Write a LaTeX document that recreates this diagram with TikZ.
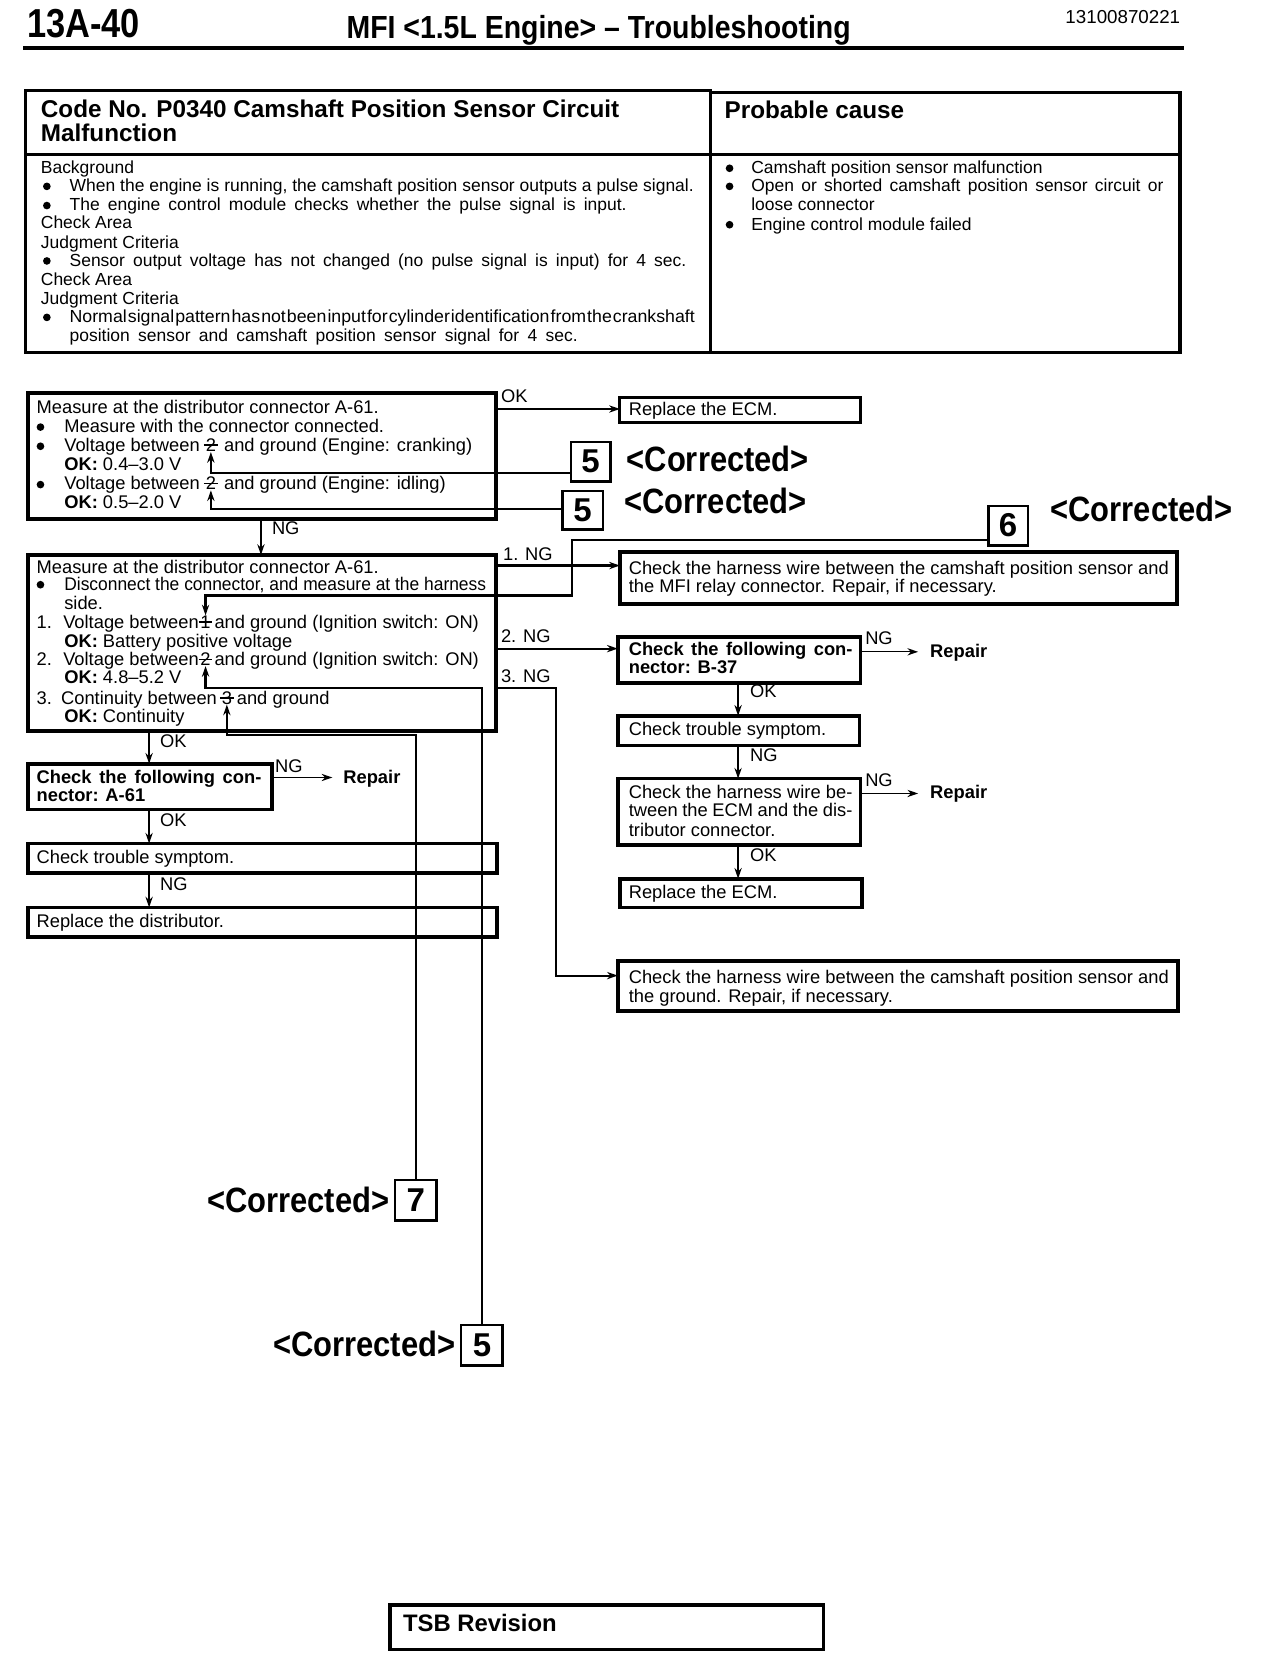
\documentclass[tikz,border=0pt]{standalone}
\usepackage{fontspec}
\setmainfont{Liberation Sans}
\usepackage{graphicx}
\usetikzlibrary{arrows.meta}
\newcommand{\tnum}[1]{\rlap{\kern-0.1em\rule[0.3em]{0.75em}{0.09em}}#1}
\newcommand{\fa}{\fontsize{8.6}{10}\selectfont}
\newcommand{\fb}{\fontsize{8.2}{10}\selectfont}
\newcommand{\jw}[2]{\makebox[#1][s]{#2}}
\newcommand{\mkbox}[7]{\node[#6, anchor=north west, minimum width={(#4-#2)*0.5pt}, minimum height={(#5-#3)*0.5pt}] (#1) at (#2,#3) {#7};}
\begin{document}
\begin{tikzpicture}[x=0.5pt,y=-0.5pt,
  tx/.style={anchor=base west, inner sep=0pt, font=\fa},
  tt/.style={anchor=base west, inner sep=0pt, font=\fb},
  dot/.style={circle, fill=black, inner sep=0pt, minimum size=3.6pt},
  fbox/.style={draw, line width=1.8pt, inner sep=0pt, outer sep=0pt},
  mbox/.style={draw, line width=1.3pt, inner sep=0pt, outer sep=0pt},
  tbox/.style={draw, line width=1.6pt, inner sep=0pt, outer sep=0pt},
  kbox/.style={draw, line width=1.2pt, inner sep=0pt, outer sep=0pt, font=\fontsize{15.5}{16}\selectfont\bfseries},
  corr/.style={inner sep=0pt, font=\fontsize{16.5}{18}\selectfont\bfseries},
  arr/.style={line width=1pt, -{Stealth[length=5pt,width=3.4pt]}},
  tarr/.style={line width=0.6pt, -{Stealth[length=5pt,width=3.4pt]}},
  carr/.style={line width=1.2pt, -{Stealth[length=5pt,width=3.4pt]}},
  gly/.style={anchor=base, inner sep=0pt, font=\fa},
  bld/.style={anchor=base west, inner sep=0pt, font=\fa\bfseries},
]
\fill[white] (0,0) rectangle (1187,1568);
\useasboundingbox (0,0) rectangle (1187,1568);

% ---------- page header ----------
\node[anchor=base west, inner sep=0pt] (pgno) at (25,35) {\scalebox{0.85}[1]{\fontsize{19}{19}\selectfont\bfseries 13A-40}};
\node[anchor=base west, inner sep=0pt] (ttl) at (325,36) {\scalebox{0.89}[1]{\fontsize{15}{15}\selectfont\bfseries MFI <1.5L Engine> – Troubleshooting}};
\node[anchor=base west, inner sep=0pt, font=\fontsize{8.8}{10}\selectfont] (docno) at (1000,22) {13100870221};
\draw[line width=2pt] (22,45) -- (1112,45);

% ---------- top table ----------
\mkbox{TL}{24}{85}{667}{331}{tbox}{}
\mkbox{TR}{667}{87}{1108}{331}{tbox}{}
\draw[line width=1.6pt] (TL.west |- 0,145) -- (TR.east |- 0,145);
\node[anchor=base west, inner sep=0pt, font=\fontsize{11.4}{13}\selectfont\bfseries] (h1) at (38,110) {Code No. P0340 Camshaft Position Sensor Circuit};
\node[anchor=base west, inner sep=0pt, font=\fontsize{11.4}{13}\selectfont\bfseries] (h2) at (38,133) {Malfunction};
\node[anchor=base west, inner sep=0pt, font=\fontsize{11.4}{13}\selectfont\bfseries] (h3) at (680,111) {Probable cause};

\node[tt] (b1) at (38,163) {Background};
\node[dot] (bu1) at (44,175) {};
\node[tt] (b2) at (65,180) {\jw{293pt}{When the engine is running, the camshaft position sensor outputs a pulse signal.}};
\node[dot] (bu2) at (44,193) {};
\node[tt] (b3) at (65,198) {\jw{261.5pt}{The engine control module checks whether the pulse signal is input.}};
\node[tt] (b4) at (38,215) {Check Area};
\node[tt] (b5) at (38,233) {Judgment Criteria};
\node[dot] (bu3) at (44,245) {};
\node[tt] (b6) at (65,250) {\jw{289.5pt}{Sensor output voltage has not changed (no pulse signal is input) for 4 sec.}};
\node[tt] (b7) at (38,268) {Check Area};
\node[tt] (b8) at (38,286) {Judgment Criteria};
\node[dot] (bu4) at (44,298) {};
\node[tt] (b9) at (65,303) {\resizebox{293.5pt}{\height}{\spaceskip=0.06em\relax Normal signal pattern has not been input for cylinder identification from the crankshaft}};
\node[tt] (b10) at (65,321) {\jw{238.5pt}{position sensor and camshaft position sensor signal for 4 sec.}};

\node[dot] (bu5) at (685,158) {};
\node[tt] (r1) at (705,163) {Camshaft position sensor malfunction};
\node[dot] (bu6) at (685,175) {};
\node[tt] (r2) at (705,180) {\jw{193.5pt}{Open or shorted camshaft position sensor circuit or}};
\node[tt] (r3) at (705,198) {loose connector};
\node[dot] (bu7) at (685,211) {};
\node[tt] (r4) at (705,216) {Engine control module failed};

% ---------- box A ----------
\mkbox{A}{26}{369}{466}{487}{fbox}{}
\node[tx] (a1) at (34,388) {Measure at the distributor connector A-61.};
\node[dot] (abu1) at (38,401) {};
\node[tx] (a2) at (60,406) {Measure with the connector connected.};
\node[dot] (abu2) at (38,419) {};
\node[tx] (a3) at (60,424) {Voltage between};
\node[gly] (gA1) at (198,424) {\tnum{2}};
\node[tx] (a4) at (210,424) {and ground (Engine: cranking)};
\node[tx] (a5) at (60,442) {\textbf{OK:} 0.4–3.0 V};
\node[dot] (abu3) at (38,455) {};
\node[tx] (a6) at (60,460) {Voltage between};
\node[gly] (gA2) at (198,460) {\tnum{2}};
\node[tx] (a7) at (210,460) {and ground (Engine: idling)};
\node[tx] (a8) at (60,477) {\textbf{OK:} 0.5–2.0 V};

% ---------- box B ----------
\mkbox{B}{26}{521}{466}{686}{fbox}{}
\node[tx] (bB1) at (34,538) {Measure at the distributor connector A-61.};
\node[dot] (bbu) at (38,549) {};
\node[tx] (bB2) at (60,554) {\resizebox{198pt}{\height}{Disconnect the connector, and measure at the harness}};
\node[tx] (bB3) at (60,572) {side.};
\node[tx] (bB4) at (34,590) {1.};
\node[tx] (bB5) at (59,590) {Voltage between};
\node[gly] (gB1) at (193,590) {\tnum{1}};
\node[tx] (bB6) at (201,590) {and ground (Ignition switch: ON)};
\node[tx] (bB7) at (60,608) {\textbf{OK:} Battery positive voltage};
\node[tx] (bB8) at (34,625) {2.};
\node[tx] (bB9) at (59,625) {Voltage between};
\node[gly] (gB2) at (193,625) {\tnum{2}};
\node[tx] (bB10) at (201,625) {and ground (Ignition switch: ON)};
\node[tx] (bB11) at (60,642) {\textbf{OK:} 4.8–5.2 V};
\node[tx] (bB12) at (34,661) {3.};
\node[tx] (bB13) at (57,661) {Continuity between};
\node[gly] (gB3) at (213,661) {\tnum{3}};
\node[tx] (bB14) at (222,661) {and ground};
\node[tx] (bB15) at (60,678) {\textbf{OK:} Continuity};

% ---------- right column ----------
\mkbox{ECMa}{582}{373}{808}{397}{mbox}{}
\node[tx] (e1) at (590,390) {Replace the ECM.};
\mkbox{C1}{582}{518}{1105}{567}{fbox}{}
\node[tx] (c1a) at (590,539) {\jw{253.5pt}{Check the harness wire between the camshaft position sensor and}};
\node[tx] (c1b) at (590,556) {the MFI relay connector. Repair, if necessary.};
\mkbox{C2}{580}{598}{808}{641}{fbox}{}
\node[bld] (c2a) at (590,615) {\jw{105pt}{Check the following con-}};
\node[bld] (c2b) at (590,632) {nector: B-37};
\mkbox{C3}{580}{672}{807}{700}{fbox}{}
\node[tx] (c3a) at (590,691) {Check trouble symptom.};
\mkbox{C4}{580}{731}{808}{793}{fbox}{}
\node[tx] (c4a) at (590,750) {\jw{105pt}{Check the harness wire be-}};
\node[tx] (c4b) at (590,767) {\jw{105pt}{tween the ECM and the dis-}};
\node[tx] (c4c) at (590,785) {tributor connector.};
\mkbox{C5}{582}{825}{809}{852}{fbox}{}
\node[tx] (c5a) at (590,844) {Replace the ECM.};
\mkbox{C6}{580}{902}{1106}{949}{fbox}{}
\node[tx] (c6a) at (590,923) {\jw{253.5pt}{Check the harness wire between the camshaft position sensor and}};
\node[tx] (c6b) at (590,941) {the ground. Repair, if necessary.};
\node[bld] (rp1) at (873,617) {Repair};
\node[bld] (rp2) at (873,750) {Repair};
\coordinate (rp1t) at (862,612);
\coordinate (rp2t) at (862,745);

% ---------- left lower column ----------
\mkbox{D1}{26}{717}{255}{760}{fbox}{}
\node[bld] (d1a) at (34,736) {\jw{105.5pt}{Check the following con-}};
\node[bld] (d1b) at (34,753) {nector: A-61};
\mkbox{D2}{26}{792}{467}{820}{fbox}{}
\node[tx] (d2a) at (34,811) {Check trouble symptom.};
\mkbox{D3}{26}{852}{467}{880}{fbox}{}
\node[tx] (d3a) at (34,871) {Replace the distributor.};
\node[bld] (rp3) at (322,736) {Repair};
\coordinate (rp3t) at (312,730);

% ---------- flow arrows ----------
\draw[arr] (A.east |- 0,384) -- (ECMa.west |- 0,384);
\node[tx] (lok1) at (470,378) {OK};
\draw[arr] (A.south -| 245,0) -- (B.north -| 245,0);
\node[tx] (lng1) at (255,502) {NG};
\draw[arr] (B.east |- 0,531) -- (C1.west |- 0,531);
\node[tx] (lng2) at (472,526) {1. NG};
\draw[arr] (B.east |- 0,609) -- (C2.west |- 0,609);
\node[tx] (lng3) at (470,603) {2. NG};
\draw[arr] (B.east |- 0,646) -- (522,646) -- (522,916) -- (C6.west |- 0,916);
\node[tx] (lng4) at (470,641) {3. NG};
\draw[tarr] (C2.east |- 0,612) -- (rp1t);
\node[tx] (lng5) at (812,605) {NG};
\draw[arr] (C2.south -| 693,0) -- (C3.north -| 693,0);
\node[tx] (lok2) at (704,655) {OK};
\draw[arr] (C3.south -| 693,0) -- (C4.north -| 693,0);
\node[tx] (lng6) at (704,715) {NG};
\draw[tarr] (C4.east |- 0,745) -- (rp2t);
\node[tx] (lng7) at (812,738) {NG};
\draw[arr] (C4.south -| 693,0) -- (C5.north -| 693,0);
\node[tx] (lok3) at (704,809) {OK};
\draw[arr] (B.south -| 140,0) -- (D1.north -| 140,0);
\node[tx] (lok4) at (150,702) {OK};
\draw[tarr] (D1.east |- 0,730) -- (rp3t);
\node[tx] (lng8) at (258,725) {NG};
\draw[arr] (D1.south -| 140,0) -- (D2.north -| 140,0);
\node[tx] (lok5) at (150,776) {OK};
\draw[arr] (D2.south -| 140,0) -- (D3.north -| 140,0);
\node[tx] (lng9) at (150,836) {NG};

% ---------- corrections ----------
\mkbox{Ka}{536}{415}{573}{452}{kbox}{5}
\node[corr, anchor=base west] (cra) at (588,443) {\scalebox{0.88}[1]{<Corrected>}};
\mkbox{Kb}{528}{461}{566}{497}{kbox}{5}
\node[corr, anchor=base west] (crb) at (586,482) {\scalebox{0.88}[1]{<Corrected>}};
\mkbox{Kc}{928}{475}{965}{512}{kbox}{6}
\node[corr, anchor=base west] (crc) at (986,490) {\scalebox{0.88}[1]{<Corrected>}};
\mkbox{Kd}{371}{1108}{410}{1146}{kbox}{7}
\node[corr, anchor=base east] (crd) at (366,1138) {\scalebox{0.88}[1]{<Corrected>}};
\mkbox{Ke}{433}{1244}{472}{1282}{kbox}{5}
\node[corr, anchor=base east] (cre) at (428,1274) {\scalebox{0.88}[1]{<Corrected>}};

\draw[carr] (Ka.west |- 0,444) -- (198,444) -- (gA1.south);
\draw[carr] (Kb.west |- 0,478) -- (198,478) -- (gA2.south);
\draw[carr] (Kc.west |- 0,507) -- (537,507) -- (537,559) -- (193,559) -- (gB1.north);
\draw[carr] (Kd.north) -- (Kd.north |- 0,690) -- (213,690) -- (gB3.south);
\draw[carr] (Ke.north) -- (Ke.north |- 0,646) -- (193,646) -- (gB2.south);

% ---------- footer ----------
\mkbox{TSB}{366}{1507}{773}{1549}{tbox}{}
\node[anchor=base west, inner sep=0pt, font=\fontsize{11.2}{13}\selectfont\bfseries] (tsbt) at (378,1532) {TSB Revision};
\end{tikzpicture}
\end{document}
